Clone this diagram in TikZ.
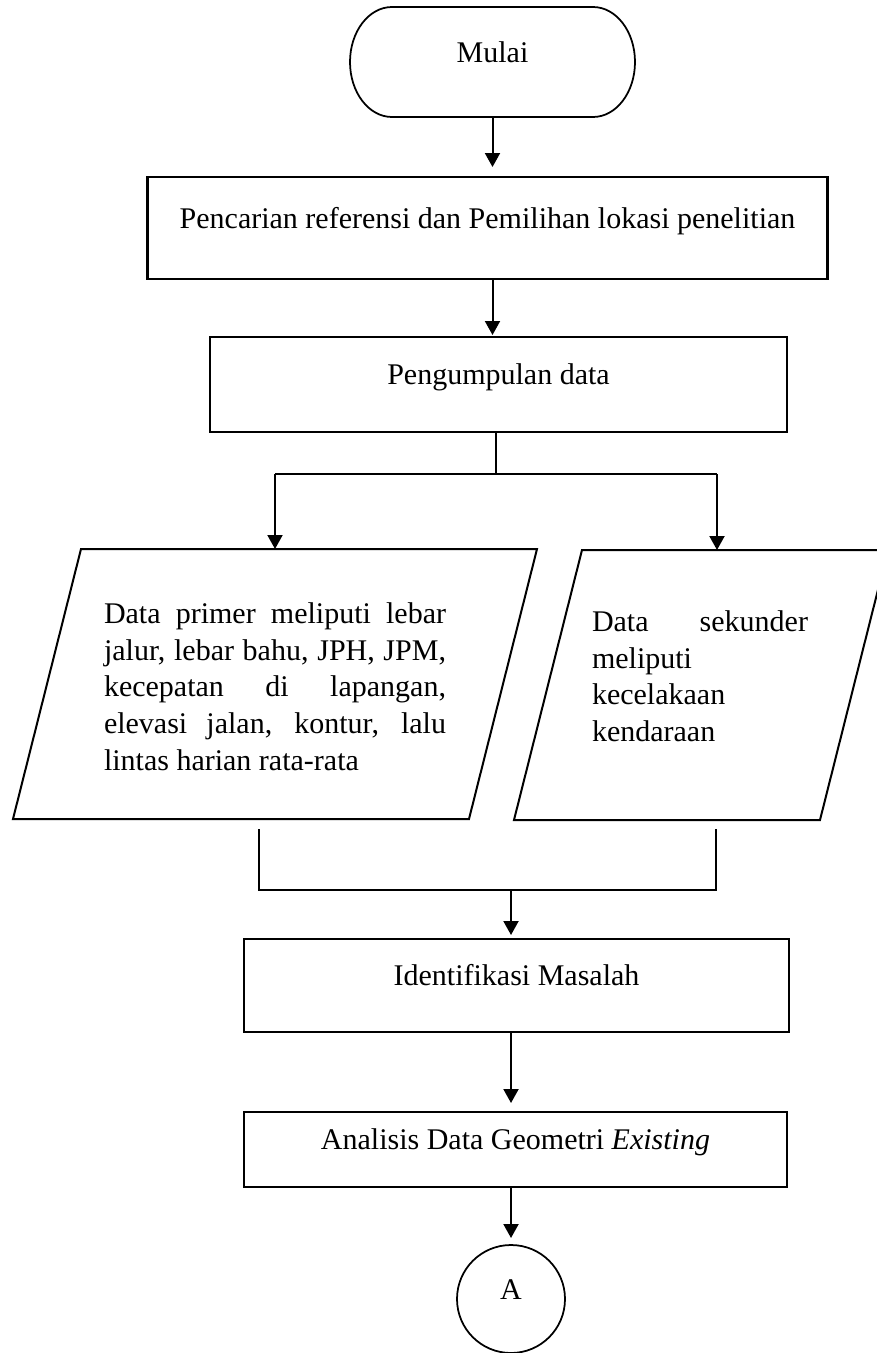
\documentclass[tikz,border=0pt]{standalone}
\usepackage{fontspec}
\setmainfont{Liberation Serif}
\usetikzlibrary{arrows.meta,calc}
\newlength\lwid \setlength\lwid{136.8pt}
\newlength\rwid \setlength\rwid{86.4pt}
\begin{document}
\begin{tikzpicture}[x=0.4pt,y=-0.4pt,
  every node/.style={font=\fontsize{12}{14.68}\selectfont, inner sep=0pt, outer sep=0pt},
  proc/.style={draw, line width=0.9pt, rectangle, text height=8pt, text depth=8pt},
  arr/.style={line width=0.8pt, -{Triangle[width=6pt,length=5.6pt]}},
  conn/.style={line width=0.8pt},
  io/.style={draw, line width=0.8pt, line join=miter}]
\useasboundingbox (0,0) rectangle (877,1353);
\clip (0,0) rectangle (877,1353);

% start terminal
\node[minimum width=114pt, minimum height=44pt, text height=8pt, text depth=8pt] (start) at (492.5,62) {Mulai};
\draw[line width=0.7pt] (392,7) -- (593,7)
  .. controls (616.2,7) and (635,31.6) .. (635,62)
  .. controls (635,92.4) and (616.2,117) .. (593,117) -- (392,117)
  .. controls (368.8,117) and (350,92.4) .. (350,62)
  .. controls (350,31.6) and (368.8,7) .. (392,7) -- cycle;

% process boxes
\node[proc, minimum width=272pt, minimum height=40.8pt] (b1) at (487.5,228) {Pencarian referensi dan Pemilihan lokasi penelitian};
\node[proc, minimum width=230.8pt, minimum height=38pt] (b2) at (498.5,384.5) {Pengumpulan data};
\node[proc, minimum width=218pt, minimum height=37.2pt] (b3) at (516.5,985.5) {Identifikasi Masalah};
\node[proc, minimum width=217.2pt, minimum height=30pt] (b4) at (515.5,1149.5) {Analisis Data Geometri \textit{Existing}};
\node[draw, circle, line width=0.7pt, minimum size=43.2pt, text height=8pt, text depth=8pt] (cA) at (511,1299) {A};

% data (parallelograms)
\draw[io] (13,819) -- (81,549) -- (537,549) -- (469,819) -- cycle;
\draw[io] (514,820) -- (582,550) -- (888,550) -- (820,820) -- cycle;
\node[anchor=north west, align=left] (pL) at (104,602.5) {%
  \makebox[\lwid][s]{Data primer meliputi lebar}\\
  \makebox[\lwid][s]{jalur, lebar bahu, JPH, JPM,}\\
  \makebox[\lwid][s]{kecepatan di lapangan,}\\
  \makebox[\lwid][s]{elevasi jalan, kontur, lalu}\\
  lintas harian rata-rata};
\node[anchor=north west, align=left] (pR) at (592,610.5) {%
  \makebox[\rwid][s]{Data sekunder}\\
  meliputi\\
  kecelakaan\\
  kendaraan};

% coordinates
\coordinate (pLtop) at (275,549);
\coordinate (pRtop) at (717,550);
\coordinate (sp) at (496,474);
\coordinate (spL) at (275,474);
\coordinate (spR) at (717,474);
\coordinate (mL1) at (259,829);
\coordinate (mL2) at (259,890);
\coordinate (mR2) at (716,890);
\coordinate (mR1) at (716,829);
\coordinate (mC) at (511,890);

% connectors
\draw[arr, shorten >=4pt] (start.south) -- (b1.north -| start.south);
\draw[arr, shorten >=0.8pt] (b1.south -| start.south) -- (b2.north -| start.south);
\draw[conn] (b2.south -| sp) -- (sp);
\draw[line width=1.1pt] (spL) -- (spR);
\draw[arr] (spL) -- (pLtop);
\draw[arr] (spR) -- (pRtop);
\draw[conn] (mL1) -- (mL2) -- (mR2) -- (mR1);
\draw[arr, shorten >=1.6pt] (mC) -- (b3.north -| mC);
\draw[arr, shorten >=3.6pt] (b3.south -| mC) -- (b4.north -| mC);
\draw[arr, shorten >=2.8pt] (b4.south -| cA) -- (cA.north);
\end{tikzpicture}
\end{document}
